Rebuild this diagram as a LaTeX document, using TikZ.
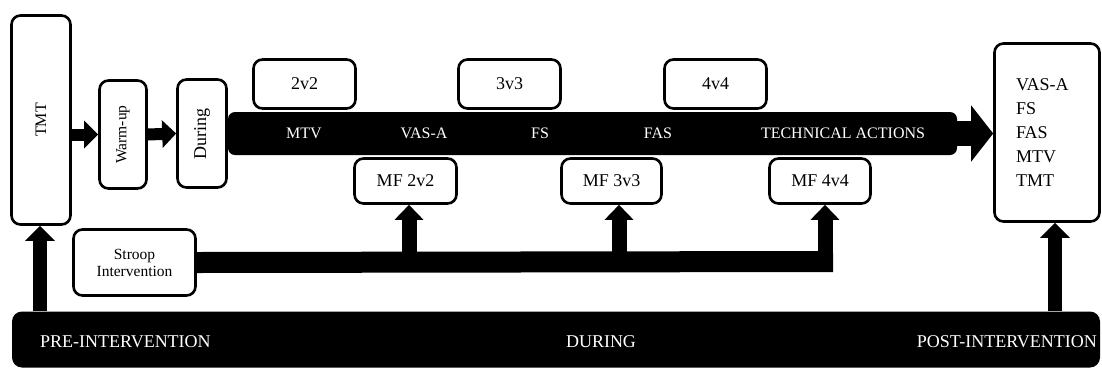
\documentclass[tikz,border=0pt]{standalone}
\usepackage{fontspec}
\setmainfont{Liberation Serif}
\usetikzlibrary{arrows.meta}

\begin{document}
\begin{tikzpicture}[
  x=1pt, y=-1pt,
  box/.style={
      rectangle,
      draw,
      line width=2.6pt,
      rounded corners=9pt,
      text centered,
      align=center,
      inner sep=0pt,
      fill=white,
      font=\fontsize{18}{22}\selectfont
  },
  band/.style={
      rectangle,
      fill=black,
      rounded corners=7pt,
      inner sep=0pt
  },
  bandtext/.style={
      text=white,
      inner sep=0pt,
      font=\fontsize{16}{19}\selectfont
  },
  phasetext/.style={
      bandtext,
      font=\fontsize{18}{22}\selectfont
  },
  fat/.style={
      draw=black,
      line width=13pt,
      -{Triangle[width=28pt,length=15pt]}
  }
]

\useasboundingbox (0,0) rectangle (1102,368);

% ==================================================
% Bands
% ==================================================

\node[
    band,
    minimum width=729pt,
    minimum height=43pt
] (stream) at (592.5,133.5) {};

\node[
    band,
    rounded corners=10pt,
    minimum width=1088pt,
    minimum height=56pt
] (phases) at (556,339.5) {};

% ==================================================
% Left Side : Pre-Intervention
% ==================================================

\node[
    box,
    minimum width=59pt,
    minimum height=209pt
] (tmt) at (41,120)
{\fontsize{16}{18}\selectfont\rotatebox{90}{TMT}};

\node[
    box,
    minimum width=47pt,
    minimum height=108pt
] (warmup) at (123,134.5)
{\fontsize{15.5}{18}\selectfont\rotatebox{90}{Warm-up}};

\node[
    box,
    minimum width=49pt,
    minimum height=108pt
] (during) at (202,133.5)
{\fontsize{18}{20}\selectfont\rotatebox{90}{During}};

\node[
    box,
    minimum width=122pt,
    minimum height=66pt,
    font=\fontsize{15.5}{17}\selectfont
] (stroop) at (134.5,262.5)
{Stroop\\Intervention};

% ==================================================
% Games and Mental Fatigue
% ==================================================

\node[box, minimum width=102pt, minimum height=49pt] (g2) at (304.5,84) {2v2};
\node[box, minimum width=102pt, minimum height=49pt] (g3) at (509.5,84) {3v3};
\node[box, minimum width=102pt, minimum height=49pt] (g4) at (715.5,84) {4v4};

\node[box, minimum width=102pt, minimum height=45pt] (mf2) at (405.5,181) {MF 2v2};
\node[box, minimum width=100pt, minimum height=45pt] (mf3) at (611.5,181) {MF 3v3};
\node[box, minimum width=101pt, minimum height=45pt] (mf4) at (820,181) {MF 4v4};

% ==================================================
% Right Side : Post-Intervention
% ==================================================

\node[
    box,
    minimum width=105pt,
    minimum height=178pt,
    text width=62pt,
    align=left,
    font=\fontsize{18}{24}\selectfont
] (post) at (1047,132.5)
{VAS-A\\FS\\FAS\\MTV\\TMT};

% ==================================================
% Labels
% ==================================================

\node[bandtext] (mtv)  at (304,133.5) {MTV};
\node[bandtext] (vasa) at (424,133.5) {VAS-A};
\node[bandtext] (fs)   at (540,133.5) {FS};
\node[bandtext] (fas)  at (658,133.5) {FAS};
\node[bandtext] (tech) at (843,133.5) {TECHNICAL ACTIONS};

\node[phasetext, anchor=west] (pre)  at (40,342) {PRE-INTERVENTION};
\node[phasetext] (mid) at (601,342) {DURING};
\node[phasetext, anchor=east] (postlab) at (1097,342) {POST-INTERVENTION};

% ==================================================
% Connections
% ==================================================

\draw[fat, line width=12pt, -{Triangle[width=27pt,length=14pt]}]
(tmt.east |- warmup.west) -- (warmup.west);

\draw[fat, line width=12pt, -{Triangle[width=27pt,length=14pt]}]
(warmup.east) -- (during.west);

\draw[fat, line width=25pt, -{Triangle[width=55pt,length=22pt]}]
([xshift=-16pt]stream.east) -- (post.west |- stream.east);

\coordinate (b2) at (409,261.5);
\coordinate (b3) at (619,261.5);
\coordinate (b4) at (825,261.5);

\draw[line width=21pt]
(stroop.east) -- ([xshift=8pt]b4);

\draw[fat, line width=15pt] (b2) -- (b2 |- mf2.south);
\draw[fat, line width=15pt] (b3) -- (b3 |- mf3.south);
\draw[fat, line width=15pt] ([yshift=10.5pt]b4) -- (b4 |- mf4.south);

\draw[fat, line width=14pt, -{Triangle[width=29pt,length=15pt]}]
([xshift=-1pt]tmt.south |- phases.north) -- ([xshift=-1pt]tmt.south);

\draw[fat, line width=14pt, -{Triangle[width=29pt,length=15pt]}]
([xshift=8pt]post.south |- phases.north) -- ([xshift=8pt]post.south);

\end{tikzpicture}
\end{document}
